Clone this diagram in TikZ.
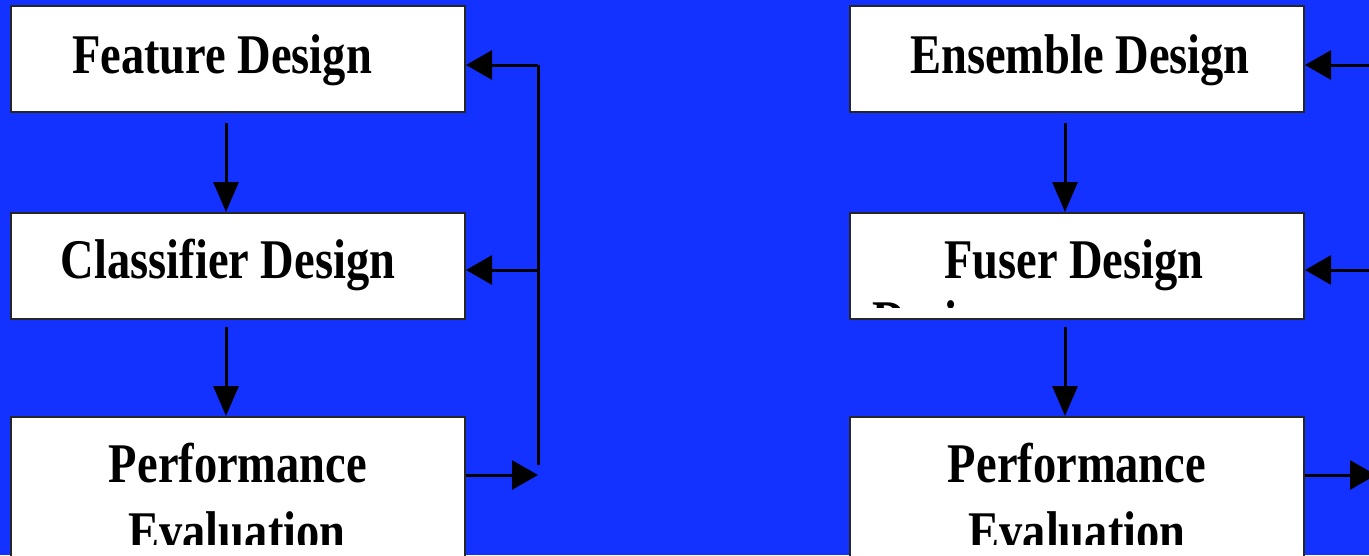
\documentclass[tikz,border=0pt]{standalone}
\usepackage{fontspec}
\newfontfamily\tnr[FakeStretch=0.83]{Liberation Serif}
\usetikzlibrary{arrows.meta}
\definecolor{bgblue}{RGB}{20,50,255}
\tikzset{
  box/.style={draw=black!85, line width=2pt, fill=white, minimum width=454pt, inner sep=0pt},
  lbl/.style={anchor=base, inner sep=0pt, font=\tnr\bfseries\fontsize{56}{68}\selectfont},
  conn/.style={line width=3pt, black},
  hArr/.style={conn, -{Triangle[length=26pt,width=29pt]}},
  vArr/.style={conn, -{Triangle[length=30pt,width=25pt]}}
}
\begin{document}
\begin{tikzpicture}[x=1pt,y=1pt]
\useasboundingbox (0,0) rectangle (1369,-555);
\clip (0,0) rectangle (1369,-555);
\fill[bgblue] (0,0) rectangle (1369,-555);

% left column boxes
\node[box, minimum height=106pt] (fd) at (238,-59) {};
\node[box, minimum height=106pt] (cd) at (238,-266) {};
\node[box, minimum height=200pt] (pe1) at (238,-517) {};
% right column boxes
\node[box, minimum height=106pt] (ed) at (1077,-59) {};
\node[box, minimum height=106pt] (fu) at (1077,-266) {};
\node[box, minimum height=200pt] (pe2) at (1077,-517) {};

% labels
\node[lbl] (tfd) at (222,-73) {Feature Design};
\node[lbl] (tcd) at (228,-278) {Classifier Design};
\node[lbl] (tp1) at (238,-482) {Performance};
\node[lbl] (ted) at (1080,-73) {Ensemble Design};
\node[lbl] (tfu) at (1074,-278) {Fuser Design};
\node[lbl] (tp2) at (1077,-482) {Performance};
\begin{scope}
  \clip (0,0) rectangle (1369,-544);
  \node[lbl] (te1) at (237,-550) {Evaluation};
  \node[lbl] (te2) at (1077,-550) {Evaluation};
\end{scope}
\begin{scope}
  \clip (860,-300) rectangle (1000,-307);
  \node[lbl, anchor=base west] (tds) at (872,-339) {Design};
\end{scope}

% down arrows
\coordinate (a1s) at (226,-123);
\coordinate (a2s) at (226,-327);
\coordinate (b1s) at (1065,-123);
\coordinate (b2s) at (1065,-327);
\draw[vArr] (a1s) -- (a1s |- cd.north);
\draw[vArr] (a2s) -- (a2s |- pe1.north);
\draw[vArr] (b1s) -- (b1s |- fu.north);
\draw[vArr] (b2s) -- (b2s |- pe2.north);

% left feedback loop
\coordinate (lt) at (538,-65);
\coordinate (lm) at (538,-270);
\coordinate (lb) at (538,-465);
\coordinate (lo) at (538,-475);
\draw[conn] (lt) -- (lb);
\draw[hArr] (lt) -- (lt -| fd.east);
\draw[hArr] (lm) -- (lm -| cd.east);
\draw[hArr] (lo -| pe1.east) -- (lo);

% right feedback arrows
\coordinate (rt) at (1369,-65);
\coordinate (rm) at (1369,-270);
\coordinate (ro) at (1376,-475);
\draw[hArr] (rt) -- (rt -| ed.east);
\draw[hArr] (rm) -- (rm -| fu.east);
\draw[hArr] (ro -| pe2.east) -- (ro);
\end{tikzpicture}
\end{document}
